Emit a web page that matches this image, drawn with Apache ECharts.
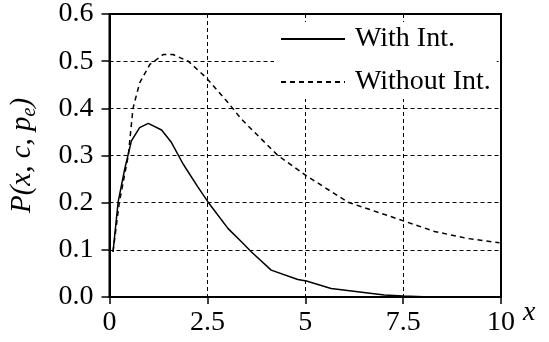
<!DOCTYPE html>
<html>
<head>
<meta charset="utf-8">
<script src="https://cdn.jsdelivr.net/npm/echarts@6/dist/echarts.min.js"></script>
</head>
<body style="margin:0">
<div id="chart" style="width:549px;height:342px"></div>
<script>
// data (estimates)
var withX    = [0.09, 0.22, 0.39, 0.56, 0.77, 0.99, 1.33, 1.58, 1.88, 2.26, 2.52, 3.03, 3.37, 3.62, 4.13, 4.81, 5.03, 5.66, 6.34, 7.02, 7.5, 8.2, 9, 10];
var withY    = [0.096, 0.201, 0.272, 0.331, 0.359, 0.368, 0.354, 0.328, 0.282, 0.233, 0.201, 0.145, 0.117, 0.096, 0.057, 0.037, 0.034, 0.018, 0.011, 0.004, 0.002, 0.0, 0.0, 0.0];
var withoutX = [0.09, 0.25, 0.48, 0.60, 0.77, 1.03, 1.37, 1.62, 2.01, 2.47, 3.03, 3.37, 4.30, 5.03, 6.09, 7.49, 8.30, 9.15, 9.96];
var withoutY = [0.096, 0.20, 0.30, 0.40, 0.454, 0.493, 0.514, 0.514, 0.50, 0.465, 0.412, 0.377, 0.30, 0.257, 0.201, 0.162, 0.139, 0.124, 0.115];
var seriesNames = ['With Int.', 'Without Int.'];

function pairs(xs, ys) {
    var out = [];
    for (var i = 0; i < xs.length; i++) out.push([xs[i], ys[i]]);
    return out;
}

var fontName = 'Liberation Serif, serif';
var chart = echarts.init(document.getElementById('chart'));

var option = {
    animationDuration: 200,
    textStyle: { fontFamily: fontName },
    grid: {
        left: 108, right: 48, top: 13, bottom: 45,
        show: true, borderColor: '#000', borderWidth: 2
    },
    legend: {
        data: seriesNames,
        orient: 'vertical',
        left: 274, top: 22,
        padding: [3, 6, 3, 6],
        itemGap: 15,
        itemWidth: 64, itemHeight: 14,
        backgroundColor: '#fff',
        itemStyle: { opacity: 0 },
        textStyle: { fontFamily: fontName, fontSize: 28, color: '#000', padding: [0, 0, 0, 5] }
    },
    xAxis: {
        type: 'value', min: 0, max: 10, interval: 2.5,
        name: 'x', nameLocation: 'end', nameGap: 22,
        nameTextStyle: { fontFamily: fontName, fontStyle: 'italic', fontSize: 28, color: '#000', verticalAlign: 'top', padding: [2, 0, 0, 0] },
        axisLine: { lineStyle: { color: '#000', width: 2 } },
        axisTick: { inside: false, length: 7, lineStyle: { color: '#000', width: 1.5 } },
        axisLabel: { fontFamily: fontName, fontSize: 28, color: '#000', margin: 12 },
        splitLine: { show: true, lineStyle: { color: '#000', width: 1, type: [4, 3] } }
    },
    yAxis: {
        type: 'value', min: 0, max: 0.6, interval: 0.1,
        name: '{t|P(x, c, p}{s|e}{t|)}', nameLocation: 'middle', nameGap: 70,
        nameTextStyle: {
            rich: {
                t: { fontFamily: fontName, fontStyle: 'italic', fontSize: 29, color: '#000', lineHeight: 34, verticalAlign: 'middle' },
                s: { fontFamily: fontName, fontStyle: 'italic', fontSize: 20, color: '#000', lineHeight: 34, verticalAlign: 'bottom' }
            }
        },
        axisLine: { lineStyle: { color: '#000', width: 2 } },
        axisTick: { inside: false, length: 8, lineStyle: { color: '#000', width: 1.5 } },
        axisLabel: {
            fontFamily: fontName, fontSize: 28, color: '#000', margin: 16,
            formatter: function (v) { return v.toFixed(1); }
        },
        splitLine: { show: true, lineStyle: { color: '#000', width: 1, type: [4, 3] } }
    },
    series: [{
        name: seriesNames[0],
        type: 'line',
        data: pairs(withX, withY),
        symbol: 'none', showSymbol: false,
        lineStyle: { color: '#000', width: 1.5, type: 'solid' },
        itemStyle: { color: '#000' },
        z: 3
    }, {
        name: seriesNames[1],
        type: 'line',
        data: pairs(withoutX, withoutY),
        symbol: 'none', showSymbol: false,
        lineStyle: { color: '#000', width: 1.5, type: [5, 4] },
        itemStyle: { color: '#000' },
        z: 3
    }]
};
chart.setOption(option);
</script>
</body>
</html>
